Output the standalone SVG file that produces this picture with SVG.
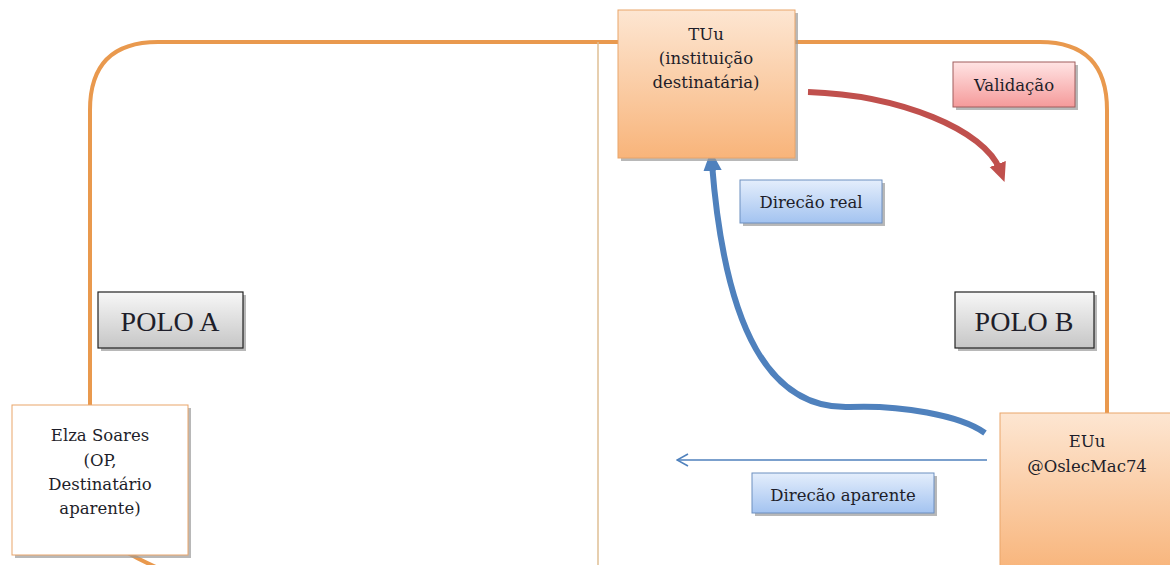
<svg xmlns="http://www.w3.org/2000/svg" width="1170" height="565" viewBox="0 0 1170 565">
<defs>
<style>
.t{font-family:"DejaVu Serif","Liberation Serif",serif;fill:#1e1e2a;text-anchor:middle}
.s{font-size:16.5px}
.p{font-family:"Liberation Serif","DejaVu Serif",serif;font-size:28px}
.sh{fill:#9a9a9a;opacity:0.7}
</style>
<linearGradient id="gOr" x1="0" y1="0" x2="0" y2="1"><stop offset="0" stop-color="#fde6d2"/><stop offset="1" stop-color="#f8b47a"/></linearGradient>
<linearGradient id="gPk" x1="0" y1="0" x2="0" y2="1"><stop offset="0" stop-color="#ffe4e4"/><stop offset="1" stop-color="#f59a9a"/></linearGradient>
<linearGradient id="gBl" x1="0" y1="0" x2="0" y2="1"><stop offset="0" stop-color="#e4eefc"/><stop offset="1" stop-color="#a3c3f0"/></linearGradient>
<linearGradient id="gGr" x1="0" y1="0" x2="0" y2="1"><stop offset="0" stop-color="#f7f7f7"/><stop offset="1" stop-color="#c6c6c6"/></linearGradient>
<marker id="mRed" markerWidth="3.2" markerHeight="3.2" refX="2" refY="3" orient="auto" markerUnits="strokeWidth" viewBox="0 0 6 6"><path d="M0,0.3 L6,3 L0,5.7 z" fill="#c0504d"/></marker>
<marker id="mBlue" markerWidth="3.4" markerHeight="3.4" refX="2" refY="3" orient="auto" markerUnits="strokeWidth" viewBox="0 0 6 6"><path d="M0,0.3 L6,3 L0,5.7 z" fill="#4f81bd"/></marker>
<marker id="mOpen" markerWidth="14" markerHeight="14" refX="13" refY="7" orient="auto" markerUnits="userSpaceOnUse" viewBox="0 0 14 14"><path d="M2,1 L13,7 L2,13" fill="none" stroke="#4f81bd" stroke-width="1.6"/></marker>
</defs>
<rect width="1170" height="565" fill="#ffffff"/>
<g id="frame">
<path d="M90,405 L90,110 Q90,42 158,42 L1040,42 Q1107,42 1107,110 L1107,413" fill="none" stroke="#e9994e" stroke-width="4"/>
<path d="M128,553 Q140,560 158,568" fill="none" stroke="#e9994e" stroke-width="4"/>
<line x1="598" y1="42" x2="598" y2="565" stroke="#dfbf95" stroke-width="1.5"/>
</g>
<g id="connectors">
<path d="M808,92 C 900,95 985,130 1000,170" fill="none" stroke="#c0504d" stroke-width="6" marker-end="url(#mRed)"/>
<path d="M985,433 C 960,415 900,405 850,407 C 770,410 725,330 712,164" fill="none" stroke="#4f81bd" stroke-width="6" marker-end="url(#mBlue)"/>
<line x1="987" y1="460" x2="677" y2="460" stroke="#4f81bd" stroke-width="1.6" marker-end="url(#mOpen)"/>
</g>
<g id="tuu">
<rect class="sh" x="621" y="13" width="177" height="148"/>
<rect x="618" y="10" width="177" height="148" fill="url(#gOr)" stroke="#e9a56a" stroke-width="1"/>
<text class="t s" x="706" y="40">TUu</text>
<text class="t s" x="706" y="64">(instituição</text>
<text class="t s" x="706" y="88">destinatária)</text>
</g>
<g id="validacao">
<rect class="sh" x="956" y="65" width="122" height="45"/>
<rect x="953" y="62" width="122" height="45" fill="url(#gPk)" stroke="#a05c5c" stroke-width="1"/>
<text class="t s" x="1014" y="91">Validação</text>
</g>
<g id="direcao-real">
<rect class="sh" x="743" y="183" width="142" height="43"/>
<rect x="740" y="180" width="142" height="43" fill="url(#gBl)" stroke="#6d8fc0" stroke-width="1"/>
<text class="t s" x="811" y="208">Direcão real</text>
</g>
<g id="polo-a">
<rect class="sh" x="101" y="295" width="145" height="56"/>
<rect x="98" y="292" width="145" height="56" fill="url(#gGr)" stroke="#222" stroke-width="1.2"/>
<text class="t p" x="170" y="331">POLO A</text>
</g>
<g id="polo-b">
<rect class="sh" x="958" y="295" width="139" height="56"/>
<rect x="955" y="292" width="139" height="56" fill="url(#gGr)" stroke="#222" stroke-width="1.2"/>
<text class="t p" x="1024" y="331">POLO B</text>
</g>
<g id="elza">
<rect class="sh" x="15" y="408" width="176" height="150"/>
<rect x="12" y="405" width="176" height="150" fill="#ffffff" stroke="#e9a56a" stroke-width="1"/>
<text class="t s" x="100" y="441">Elza Soares</text>
<text class="t s" x="100" y="466">(OP,</text>
<text class="t s" x="100" y="490">Destinatário</text>
<text class="t s" x="100" y="514">aparente)</text>
</g>
<g id="euu">
<rect x="1000" y="413" width="175" height="160" fill="url(#gOr)" stroke="#e9a56a" stroke-width="1"/>
<text class="t s" x="1087" y="447">EUu</text>
<text class="t s" x="1087" y="472">@OslecMac74</text>
</g>
<g id="direcao-aparente">
<rect class="sh" x="755" y="476" width="182" height="40"/>
<rect x="752" y="473" width="182" height="40" fill="url(#gBl)" stroke="#6d8fc0" stroke-width="1"/>
<text class="t s" x="843" y="501">Direcão aparente</text>
</g>
</svg>
